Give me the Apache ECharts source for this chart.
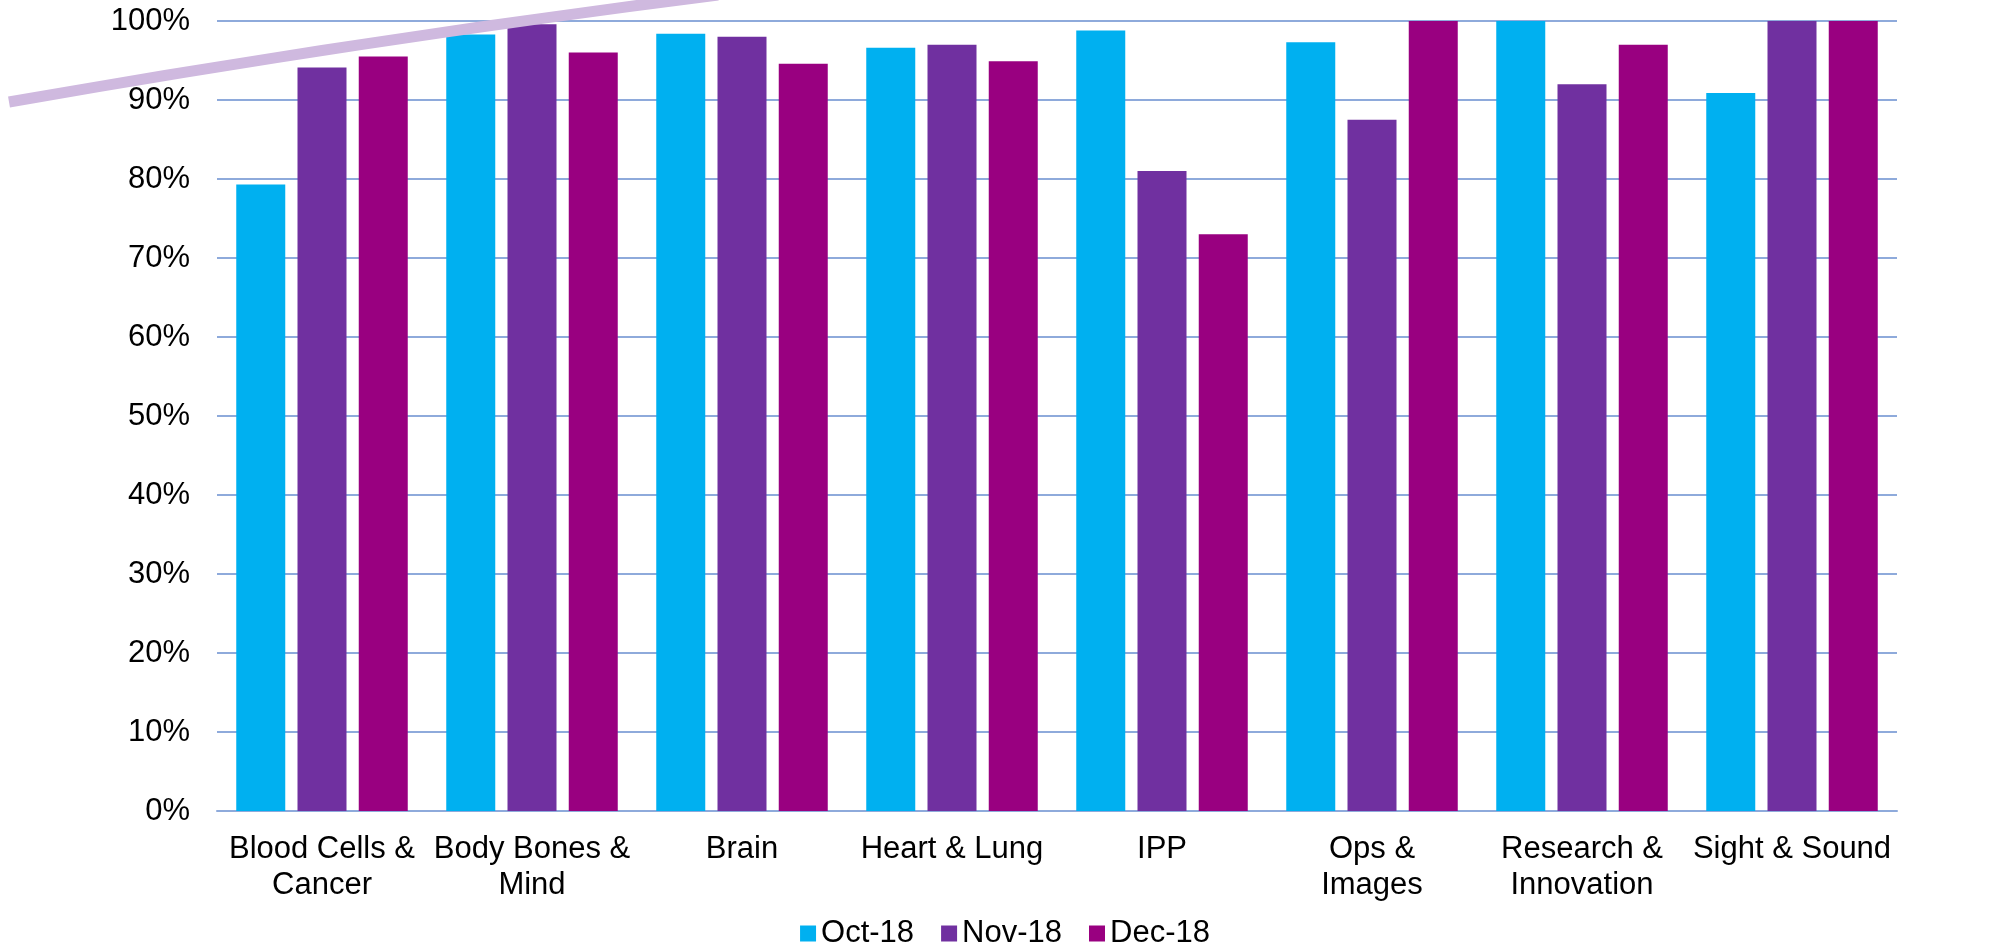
<!DOCTYPE html>
<html>
<head>
<meta charset="utf-8">
<title>Monthly performance by division</title>
<script src="https://cdn.jsdelivr.net/npm/echarts@6/dist/echarts.min.js"></script>
<style>
  html, body { margin: 0; padding: 0; background: #ffffff; }
  #chart { width: 2010px; height: 949px; }
</style>
</head>
<body>
<div id="chart"></div>
<script>
// Divisions along the x axis (line breaks as they wrap under the bars)
const categories = [
  'Blood Cells &\nCancer',
  'Body Bones &\nMind',
  'Brain',
  'Heart & Lung',
  'IPP',
  'Ops &\nImages',
  'Research &\nInnovation',
  'Sight & Sound'
];

// Monthly percentages per division
const oct18 = [79.3, 98.3, 98.4, 96.6, 98.8, 97.3, 100, 90.9];
const nov18 = [94.1, 99.6, 98.0, 97.0, 81.0, 87.5, 92.0, 100];
const dec18 = [95.5, 96.0, 94.6, 94.9, 73.0, 100, 97.0, 100];

const seriesNames = ['Oct-18', 'Nov-18', 'Dec-18'];
const seriesColors = ['#00B0F0', '#7030A0', '#990080'];

// Y axis range and step (percent)
const yMin = 0;
const yMax = 100;
const yStep = 10;

const FONT = '"Liberation Sans", Arial, sans-serif';
const FONT_SIZE = 31;
const GRID_BLUE = '#8EAADB';

const chart = echarts.init(document.getElementById('chart'), null, { renderer: 'canvas' });

const seriesData = [oct18, nov18, dec18];

chart.setOption({
  animation: false,
  backgroundColor: '#ffffff',
  textStyle: { fontFamily: FONT },
  grid: { left: 217, top: 21, width: 1680, height: 790, containLabel: false },
  legend: {
    data: seriesNames,
    left: 'center',
    top: 913,
    icon: 'rect',
    itemWidth: 16,
    itemHeight: 16,
    itemGap: 27,
    textStyle: { fontFamily: FONT, fontSize: FONT_SIZE, color: '#000000', lineHeight: 31 }
  },
  xAxis: {
    type: 'category',
    data: categories,
    axisTick: { show: false },
    axisLine: { show: true, lineStyle: { color: GRID_BLUE, width: 2 } },
    axisLabel: {
      interval: 0,
      margin: 20,
      fontFamily: FONT,
      fontSize: FONT_SIZE,
      lineHeight: 36,
      color: '#000000'
    }
  },
  yAxis: {
    type: 'value',
    min: yMin,
    max: yMax,
    interval: yStep,
    axisLine: { show: false },
    axisTick: { show: false },
    splitLine: { show: true, lineStyle: { color: GRID_BLUE, width: 2 } },
    axisLabel: {
      formatter: '{value}%',
      margin: 27,
      fontFamily: FONT,
      fontSize: FONT_SIZE,
      color: '#000000'
    }
  },
  series: seriesNames.map((name, i) => ({
    name: name,
    type: 'bar',
    data: seriesData[i],
    barWidth: 49,
    barGap: '25%',
    itemStyle: { color: seriesColors[i] }
  })),
  // Decorative lavender swoosh across the top-left corner
  graphic: [{
    type: 'bezierCurve',
    silent: true,
    z: 100,
    shape: {
      x1: 9, y1: 102,
      x2: 718, y2: -5,
      cpx1: 362, cpy1: 40
    },
    style: {
      stroke: '#CFB9DF',
      lineWidth: 11,
      fill: null,
      lineCap: 'butt'
    }
  }]
});
</script>
</body>
</html>
